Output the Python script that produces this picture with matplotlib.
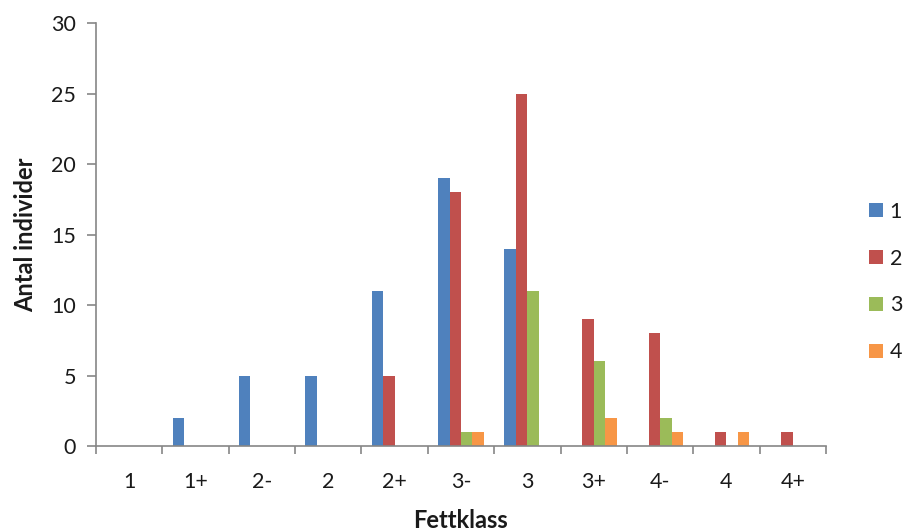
import matplotlib.pyplot as plt
import numpy as np

plt.rcParams['font.family'] = ['Lato', 'DejaVu Sans']

# Fettklass categories and number of individuals per group
fettklass = ['1', '1+', '2-', '2', '2+', '3-', '3', '3+', '4-', '4', '4+']
grupp_1 = [0, 2, 5, 5, 11, 19, 14, 0, 0, 0, 0]
grupp_2 = [0, 0, 0, 0, 5, 18, 25, 9, 8, 1, 1]
grupp_3 = [0, 0, 0, 0, 0, 1, 11, 6, 2, 0, 0]
grupp_4 = [0, 0, 0, 0, 0, 1, 0, 2, 1, 1, 0]
serier = ['1', '2', '3', '4']

farger = ['#4F81BD', '#C0504D', '#9BBB59', '#F79646']
grau = '#868686'
text_farg = '#1a1a1a'

fig = plt.figure(figsize=(9.04, 5.31), dpi=100)
ax = fig.add_axes([0.1062, 0.160, 0.8075, 0.7967])

x = np.arange(len(fettklass))
w = 0.173
for i, (vals, namn) in enumerate(zip([grupp_1, grupp_2, grupp_3, grupp_4], serier)):
    ax.bar(x + (i - 1.5) * w, vals, w, color=farger[i], label=namn, linewidth=0)

ax.set_xlim(-0.5, len(fettklass) - 0.5)
ax.set_ylim(0, 30)
ax.set_yticks(range(0, 31, 5))

ax.set_xticks(x)
ax.set_xticklabels(fettklass)
ax.set_xticks(np.arange(-0.5, len(fettklass), 1), minor=True)
ax.tick_params(axis='x', which='major', length=0, pad=19, labelsize=15.5, colors=text_farg)
ax.tick_params(axis='x', which='minor', length=6, width=1.2, color=grau, direction='out')
ax.tick_params(axis='y', length=6.5, width=1.2, color=grau, pad=8, labelsize=15.5, labelcolor=text_farg)

for s in ['top', 'right']:
    ax.spines[s].set_visible(False)
for s in ['left', 'bottom']:
    ax.spines[s].set_color(grau)
    ax.spines[s].set_linewidth(1.2)

ax.set_ylabel('Antal individer', fontsize=17, fontweight='bold', labelpad=10, color=text_farg)
ax.set_xlabel('Fettklass', fontsize=17, fontweight='bold', labelpad=12, color=text_farg)

fig.legend(loc='center left', bbox_to_anchor=(0.952, 0.469), frameon=False,
           fontsize=15.5, handlelength=0.65, handleheight=0.65, handletextpad=0.3,
           labelspacing=1.25, borderaxespad=0, labelcolor=text_farg)

fig.savefig('out.png', dpi=100)
